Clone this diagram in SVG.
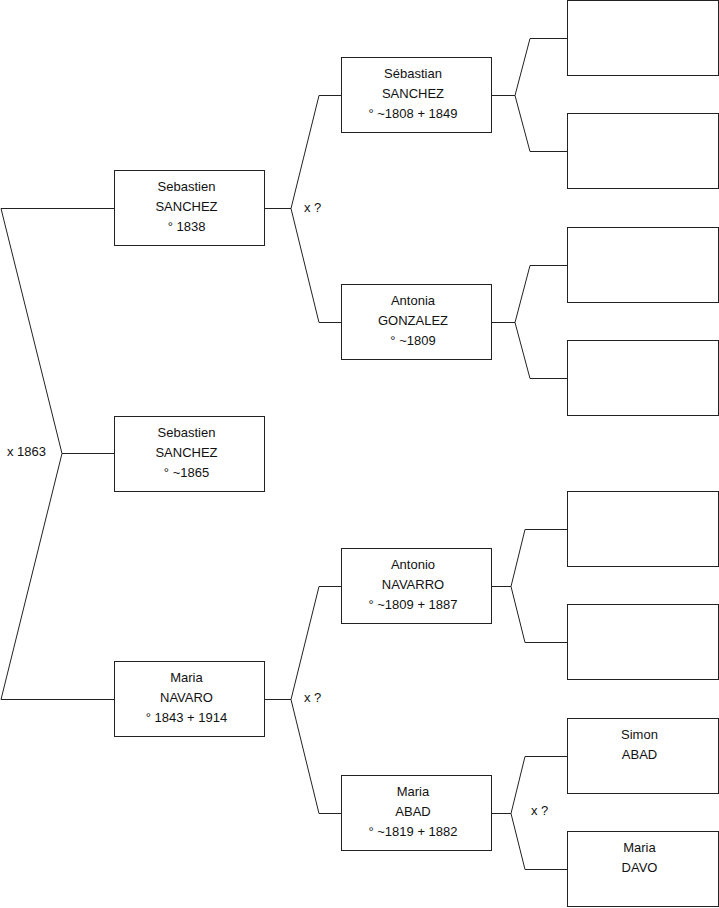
<svg xmlns="http://www.w3.org/2000/svg" width="719" height="908" viewBox="0 0 719 908">
<style>
rect.box{fill:#fff;stroke:#222;stroke-width:1}
.c path{fill:none;stroke:#222;stroke-width:1}
text{font-family:"Liberation Sans",Arial,sans-serif;font-size:13px;fill:#111}
.n text{text-anchor:middle}
</style>
<rect width="719" height="908" fill="#fff"/>
<g id="connectors" class="c">
<path d="M1,208.5 H114.5 M1,208.5 L62,453.5 L1,699.5 H114.5 M62,453.5 H114.5"/>
<path d="M264.5,208.5 H291 M341.5,95.5 H319 L291,208.5 L319,322.5 H341.5"/>
<path d="M264.5,699.5 H291 M341.5,586.5 H319 L291,699.5 L319,813.5 H341.5"/>
<path d="M491.5,95.5 H515 M567.5,38.5 H530 L515,95.5 L530,151.5 H567.5"/>
<path d="M491.5,322.5 H515 M567.5,265.5 H530 L515,322.5 L530,378.5 H567.5"/>
<path d="M491.5,586.5 H511 M567.5,529.5 H525 L511,586.5 L525,642.5 H567.5"/>
<path d="M491.5,813.5 H511 M567.5,756.5 H525 L511,813.5 L525,869.5 H567.5"/>
</g>
<g id="labels">
<text x="7" y="456">x 1863</text>
<text x="304" y="212">x ?</text>
<text x="304" y="702">x ?</text>
<text x="531" y="815">x ?</text>
</g>
<g id="n1" class="n"><rect class="box" x="114.5" y="170.5" width="150" height="75"/>
<text x="186.5" y="191">Sebastien</text><text x="186.5" y="211">SANCHEZ</text><text x="186.5" y="231">° 1838</text></g>
<g id="n2" class="n"><rect class="box" x="114.5" y="416.5" width="150" height="75"/>
<text x="186.5" y="437">Sebastien</text><text x="186.5" y="457">SANCHEZ</text><text x="186.5" y="477">° ~1865</text></g>
<g id="n3" class="n"><rect class="box" x="114.5" y="661.5" width="150" height="75"/>
<text x="186.5" y="682">Maria</text><text x="186.5" y="702">NAVARO</text><text x="186.5" y="722">° 1843 + 1914</text></g>
<g id="n4" class="n"><rect class="box" x="341.5" y="57.5" width="150" height="75"/>
<text x="413" y="78">Sébastian</text><text x="413" y="98">SANCHEZ</text><text x="413" y="118">° ~1808 + 1849</text></g>
<g id="n5" class="n"><rect class="box" x="341.5" y="284.5" width="150" height="75"/>
<text x="413" y="305">Antonia</text><text x="413" y="325">GONZALEZ</text><text x="413" y="345">° ~1809</text></g>
<g id="n6" class="n"><rect class="box" x="341.5" y="548.5" width="150" height="75"/>
<text x="413" y="569">Antonio</text><text x="413" y="589">NAVARRO</text><text x="413" y="609">° ~1809 + 1887</text></g>
<g id="n7" class="n"><rect class="box" x="341.5" y="775.5" width="150" height="75"/>
<text x="413" y="796">Maria</text><text x="413" y="816">ABAD</text><text x="413" y="836">° ~1819 + 1882</text></g>
<g id="n8" class="n"><rect class="box" x="567.5" y="0.5" width="151" height="75"/></g>
<g id="n9" class="n"><rect class="box" x="567.5" y="113.5" width="151" height="75"/></g>
<g id="n10" class="n"><rect class="box" x="567.5" y="227.5" width="151" height="75"/></g>
<g id="n11" class="n"><rect class="box" x="567.5" y="340.5" width="151" height="75"/></g>
<g id="n12" class="n"><rect class="box" x="567.5" y="491.5" width="151" height="75"/></g>
<g id="n13" class="n"><rect class="box" x="567.5" y="604.5" width="151" height="75"/></g>
<g id="n14" class="n"><rect class="box" x="567.5" y="718.5" width="151" height="75"/>
<text x="639.5" y="739">Simon</text><text x="639.5" y="759">ABAD</text></g>
<g id="n15" class="n"><rect class="box" x="567.5" y="831.5" width="151" height="75"/>
<text x="639.5" y="852">Maria</text><text x="639.5" y="872">DAVO</text></g>
</svg>
